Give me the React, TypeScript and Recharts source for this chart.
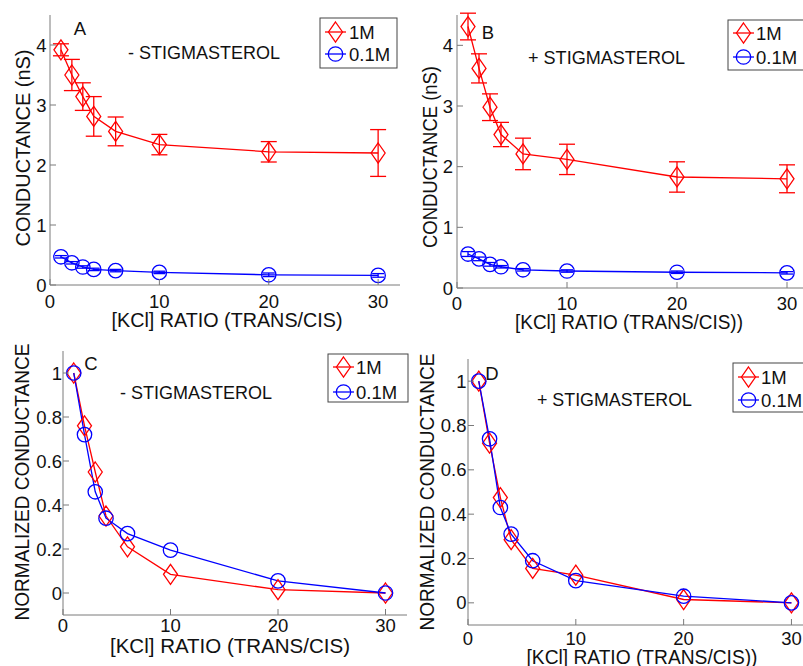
import { ErrorBar, Line, LineChart, XAxis, YAxis } from "recharts";

const RATIO = [1, 2, 3, 4, 6, 10, 20, 30];
const X_TICKS = [0, 10, 20, 30];
const G_TICKS = [0, 1, 2, 3, 4];
const N_TICKS = [0, 0.2, 0.4, 0.6, 0.8, 1];

// A: - stigmasterol, conductance (nS)
const A_1M = [3.92, 3.5, 3.14, 2.81, 2.56, 2.34, 2.22, 2.2];
const A_1M_ERR = [0.1, 0.26, 0.23, 0.33, 0.24, 0.17, 0.17, 0.39];
const A_01M = [0.47, 0.37, 0.3, 0.26, 0.24, 0.21, 0.17, 0.16];
const A_01M_ERR = [0.02, 0.02, 0.02, 0.02, 0.02, 0.02, 0.03, 0.03];

// B: + stigmasterol, conductance (nS)
const B_1M = [4.31, 3.62, 2.98, 2.53, 2.21, 2.12, 1.83, 1.8];
const B_1M_ERR = [0.22, 0.24, 0.22, 0.2, 0.26, 0.25, 0.25, 0.23];
const B_01M = [0.56, 0.48, 0.39, 0.35, 0.3, 0.28, 0.26, 0.25];
const B_01M_ERR = [0.04, 0.03, 0.03, 0.02, 0.02, 0.02, 0.02, 0.02];

// C: - stigmasterol, normalized
const C_1M = [1, 0.76, 0.55, 0.35, 0.21, 0.085, 0.015, 0];
const C_01M = [1, 0.72, 0.46, 0.34, 0.27, 0.195, 0.055, 0];

// D: + stigmasterol, normalized
const D_1M = [1, 0.72, 0.475, 0.285, 0.155, 0.125, 0.015, 0];
const D_01M = [1, 0.74, 0.43, 0.31, 0.19, 0.1, 0.03, 0];

const RED = "#ff0000";
const BLUE = "#0000ff";
const FRAME = "#7a7a7a";
const INK = "#111";
const FONT = "'Liberation Sans', Arial, sans-serif";
const TICK = 6;

const rows = (m1: number[], m01: number[], e1?: number[], e01?: number[]) =>
  RATIO.map((ratio, i) => ({
    ratio,
    m1: m1[i],
    m01: m01[i],
    e1: e1 ? e1[i] : 0,
    e01: e01 ? e01[i] : 0,
  }));

function Diamond({ cx, cy, color = RED }: { cx: number; cy: number; color?: string }) {
  return (
    <polygon
      points={`${cx},${cy - 10} ${cx + 7},${cy} ${cx},${cy + 10} ${cx - 7},${cy}`}
      fill="none"
      stroke={color}
      strokeWidth={1.3}
    />
  );
}

function Ring({ cx, cy, color = BLUE }: { cx: number; cy: number; color?: string }) {
  return <circle cx={cx} cy={cy} r={7.2} fill="none" stroke={color} strokeWidth={1.3} />;
}

const bottomTick = (gap: number) => ({ x, y, payload }: any) => (
  <g>
    <line x1={x} x2={x} y1={y} y2={y - TICK} stroke={FRAME} />
    <text x={x} y={y + gap + 13.2} textAnchor="middle" fontSize={18.5} fill={INK} fontFamily={FONT}>
      {payload.value}
    </text>
  </g>
);

const TopTick = ({ x, y }: any) => <line x1={x} x2={x} y1={y} y2={y + TICK} stroke={FRAME} />;

const leftTick = (gap: number) => ({ x, y, payload }: any) => (
  <g>
    <line x1={x} x2={x + TICK} y1={y} y2={y} stroke={FRAME} />
    <text x={x - gap} y={y + 6.6} textAnchor="end" fontSize={18.5} fill={INK} fontFamily={FONT}>
      {payload.value}
    </text>
  </g>
);

const RightTick = ({ x, y }: any) => <line x1={x} x2={x - TICK} y1={y} y2={y} stroke={FRAME} />;

type PanelProps = {
  left: number;
  top: number;
  width: number;
  height: number;
  yw: number;
  xh: number;
  mt: number;
  mr: number;
  xGap: number;
  yGap: number;
  data: ReturnType<typeof rows>;
  yDomain: [number, number];
  yTicks: number[];
  errors?: boolean;
};

function Panel({ left, top, width, height, yw, xh, mt, mr, xGap, yGap, data, yDomain, yTicks, errors }: PanelProps) {
  const XTick = bottomTick(xGap);
  const YTick = leftTick(yGap);
  return (
    <div style={{ position: "absolute", left, top }}>
      <LineChart width={width} height={height} data={data} margin={{ top: mt, right: mr, bottom: 0, left: 0 }}>
        <XAxis
          dataKey="ratio"
          type="number"
          domain={[0, 32]}
          ticks={X_TICKS}
          interval={0}
          height={xh}
          stroke={FRAME}
          tickLine={false}
          tickSize={0}
          tickMargin={0}
          tick={(p: any) => <XTick {...p} />}
          allowDataOverflow
        />
        <XAxis
          xAxisId="top"
          orientation="top"
          type="number"
          domain={[0, 32]}
          ticks={X_TICKS}
          interval={0}
          height={0}
          stroke={FRAME}
          tickLine={false}
          tickSize={0}
          tickMargin={0}
          tick={(p: any) => <TopTick {...p} />}
          allowDataOverflow
        />
        <YAxis
          type="number"
          domain={yDomain}
          ticks={yTicks}
          interval={0}
          width={yw}
          stroke={FRAME}
          tickLine={false}
          tickSize={0}
          tickMargin={0}
          tick={(p: any) => <YTick {...p} />}
          allowDataOverflow
        />
        <YAxis
          yAxisId="right"
          orientation="right"
          type="number"
          domain={yDomain}
          ticks={yTicks}
          interval={0}
          width={0}
          stroke={FRAME}
          tickLine={false}
          tickSize={0}
          tickMargin={0}
          tick={(p: any) => <RightTick {...p} />}
          allowDataOverflow
        />
        <Line
          dataKey="m1"
          type="linear"
          stroke={RED}
          strokeWidth={1.3}
          dot={(p: any) => <Diamond key={`d${p.index}`} cx={p.cx} cy={p.cy} />}
          activeDot={false}
          isAnimationActive={false}
        >
          {errors && <ErrorBar dataKey="e1" direction="y" width={8} stroke={RED} strokeWidth={1.3} />}
        </Line>
        <Line
          dataKey="m01"
          type="linear"
          stroke={BLUE}
          strokeWidth={1.3}
          dot={(p: any) => <Ring key={`r${p.index}`} cx={p.cx} cy={p.cy} />}
          activeDot={false}
          isAnimationActive={false}
        >
          {errors && <ErrorBar dataKey="e01" direction="y" width={6} stroke={BLUE} strokeWidth={1.3} />}
        </Line>
      </LineChart>
    </div>
  );
}

function LegendBox({ x, y, w, h, r1, r2, lx, tx }: { x: number; y: number; w: number; h: number; r1: number; r2: number; lx: number; tx: number }) {
  const mid = lx + 10.5;
  return (
    <g>
      <rect x={x} y={y} width={w} height={h} fill="#fff" stroke="#444" strokeWidth={1} />
      <line x1={lx} x2={lx + 21} y1={r1} y2={r1} stroke={RED} strokeWidth={1.3} />
      <Diamond cx={mid} cy={r1} />
      <text x={tx} y={r1 + 6.7} fontSize={18.5} fill={INK} fontFamily={FONT}>
        1M
      </text>
      <line x1={lx} x2={lx + 21} y1={r2} y2={r2} stroke={BLUE} strokeWidth={1.3} />
      <Ring cx={mid} cy={r2} />
      <text x={tx} y={r2 + 6.7} fontSize={18.5} fill={INK} fontFamily={FONT}>
        0.1M
      </text>
    </g>
  );
}

function Label({ x, y, text, size = 19.5, rotate = false, anchor = "middle", len }: { x: number; y: number; text: string; size?: number; rotate?: boolean; anchor?: string; len?: number }) {
  return (
    <text
      x={x}
      y={y}
      fontSize={size}
      fill={INK}
      fontFamily={FONT}
      textAnchor={anchor as any}
      textLength={len}
      lengthAdjust={len ? "spacingAndGlyphs" : undefined}
      transform={rotate ? `rotate(-90 ${x} ${y})` : undefined}
    >
      {text}
    </text>
  );
}

export default function App() {
  return (
    <div style={{ position: "fixed", left: 0, top: 0, width: 803, height: 666, background: "#fff", overflow: "hidden" }}>
      <Panel left={0} top={0} width={410} height={330} yw={50} xh={45} mt={15} mr={10} xGap={10} yGap={3.5}
        data={rows(A_1M, A_01M, A_1M_ERR, A_01M_ERR)} yDomain={[0, 4.5]} yTicks={G_TICKS} errors />
      <Panel left={400} top={0} width={415} height={330} yw={57} xh={42} mt={15} mr={6} xGap={9} yGap={4}
        data={rows(B_1M, B_01M, B_1M_ERR, B_01M_ERR)} yDomain={[0, 4.5]} yTicks={G_TICKS} errors />
      <Panel left={0} top={330} width={410} height={336} yw={63} xh={51} mt={21} mr={3} xGap={4} yGap={1}
        data={rows(C_1M, C_01M)} yDomain={[-0.1, 1.1]} yTicks={N_TICKS} />
      <Panel left={400} top={330} width={415} height={336} yw={68} xh={41} mt={29} mr={2} xGap={7} yGap={1.5}
        data={rows(D_1M, D_01M)} yDomain={[-0.1, 1.1]} yTicks={N_TICKS} />

      <svg width={803} height={666} style={{ position: "absolute", left: 0, top: 0, pointerEvents: "none" }}>
        <Label x={80} y={35} text="A" size={18.5} />
        <Label x={128} y={59} text="- STIGMASTEROL" size={17.5} anchor="start" len={152} />
        <Label x={227} y={327} text="[KCl] RATIO (TRANS/CIS)" len={231} />
        <Label x={30} y={148} text="CONDUCTANCE (nS)" rotate len={197} />
        <LegendBox x={320} y={18} w={77} h={50} r1={32} r2={54} lx={325} tx={349} />

        <Label x={488} y={39} text="B" size={18.5} />
        <Label x={528} y={64} text="+ STIGMASTEROL" size={17.5} anchor="start" len={157} />
        <Label x={629} y={329} text="[KCl] RATIO (TRANS/CIS))" len={228} />
        <Label x={437} y={157} text="CONDUCTANCE (nS)" rotate len={182} />
        <LegendBox x={728} y={20} w={85} h={50} r1={33} r2={57} lx={733} tx={756} />

        <Label x={91} y={370} text="C" size={18.5} />
        <Label x={120} y={399} text="- STIGMASTEROL" size={17.5} anchor="start" len={152} />
        <Label x={230} y={653} text="[KCl] RATIO (TRANS/CIS)" len={240} />
        <Label x={29} y={482} text="NORMALIZED CONDUCTANCE" rotate len={277} />
        <LegendBox x={328} y={354} w={80} h={48} r1={367} r2={392} lx={333} tx={356} />

        <Label x={492} y={380} text="D" size={18.5} />
        <Label x={537} y={406} text="+ STIGMASTEROL" size={17.5} anchor="start" len={155} />
        <Label x={642} y={664} text="[KCl] RATIO (TRANS/CIS))" len={231} />
        <Label x={434} y={492} text="NORMALIZED CONDUCTANCE" rotate len={277} />
        <LegendBox x={733} y={363} w={85} h={49} r1={377} r2={400} lx={738} tx={761} />
      </svg>
    </div>
  );
}
